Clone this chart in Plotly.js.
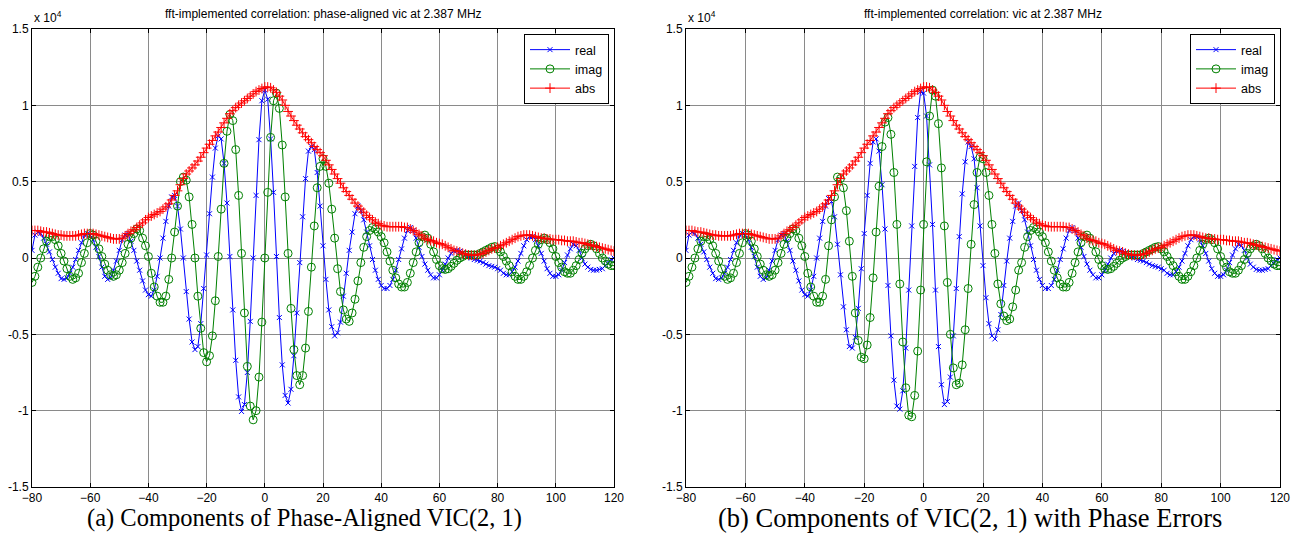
<!DOCTYPE html>
<html><head><meta charset="utf-8">
<script src="https://cdn.plot.ly/plotly-3.0.1.min.js"></script>
<style>html,body{margin:0;padding:0;background:#fff}#chart{width:1304px;height:546px}</style>
</head><body><div id="chart"></div>
<script>
// lag axis: -80 .. 120, step 1
const lagStart = -80, lagEnd = 120;

// ---- panel (a): phase-aligned (values in units of 1e4), one row = 10 lags ----
const realA = [
 0.05, 0.15, 0.17, 0.16, 0.13, 0.09, 0.04, -0.01, -0.06, -0.10,
 -0.135, -0.14, -0.13, -0.10, -0.06, -0.01, 0.05, 0.10, 0.15, 0.16,
 0.15, 0.12, 0.07, 0.01, -0.06, -0.12, -0.14, -0.13, -0.08, -0.02,
 0.05, 0.12, 0.15, 0.16, 0.11, 0.05, -0.02, -0.08, -0.15, -0.21,
 -0.24, -0.25, -0.21, -0.12, 0.0, 0.13, 0.24, 0.34, 0.40, 0.41,
 0.34, 0.19, 0.0, -0.22, -0.40, -0.55, -0.60, -0.58, -0.43, -0.20,
 0.02, 0.29, 0.53, 0.72, 0.80, 0.78, 0.62, 0.36, 0.01, -0.34,
 -0.67, -0.91, -1.005, -0.96, -0.75, -0.415, 0.0, 0.41, 0.775, 1.03,
 1.10, 1.04, 0.78, 0.43, 0.01, -0.39, -0.70, -0.90, -0.95, -0.86,
 -0.64, -0.36, -0.03, 0.27, 0.52, 0.70, 0.73, 0.71, 0.56, 0.34,
 0.08, -0.14, -0.34, -0.45, -0.51, -0.49, -0.42, -0.25, -0.10, 0.05,
 0.17, 0.29, 0.34, 0.31, 0.25, 0.17, 0.08, -0.01, -0.08, -0.14,
 -0.18, -0.20, -0.20, -0.18, -0.14, -0.08, -0.01, 0.06, 0.13, 0.18,
 0.20, 0.18, 0.13, 0.07, 0.01, -0.04, -0.08, -0.11, -0.13, -0.13,
 -0.11, -0.08, -0.04, 0.0, 0.03, 0.045, 0.05, 0.045, 0.035, 0.02,
 0.01, 0.0, -0.01, -0.015, -0.02, -0.03, -0.04, -0.05, -0.055, -0.06,
 -0.07, -0.08, -0.10, -0.11, -0.11, -0.09, -0.06, -0.02, 0.03, 0.08,
 0.12, 0.14, 0.14, 0.12, 0.08, 0.03, -0.02, -0.07, -0.10, -0.12,
 -0.12, -0.11, -0.08, -0.03, 0.02, 0.06, 0.09, 0.08, 0.05, 0.0,
 -0.04, -0.06, -0.075, -0.08, -0.08, -0.075, -0.07, -0.05, -0.03, -0.01,
 0.0
];
const imagA = [
 -0.16, -0.12, -0.06, 0.0, 0.06, 0.11, 0.14, 0.14, 0.12, 0.08,
 0.03, -0.02, -0.07, -0.12, -0.14, -0.13, -0.10, -0.03, 0.03, 0.10,
 0.16, 0.15, 0.11, 0.06, 0.01, -0.04, -0.08, -0.11, -0.12, -0.11,
 -0.08, -0.03, 0.03, 0.09, 0.13, 0.16, 0.19, 0.18, 0.13, 0.08,
 0.01, -0.10, -0.19, -0.25, -0.29, -0.29, -0.25, -0.14, 0.0, 0.17,
 0.34, 0.50, 0.53, 0.51, 0.40, 0.22, 0.0, -0.25, -0.46, -0.62,
 -0.68, -0.64, -0.51, -0.28, 0.01, 0.32, 0.62, 0.83, 0.94, 0.90,
 0.71, 0.41, 0.03, -0.36, -0.71, -0.97, -1.06, -1.0, -0.78, -0.42,
 0.0, 0.43, 0.79, 1.03, 1.08, 0.98, 0.74, 0.40, 0.03, -0.33,
 -0.60, -0.77, -0.83, -0.77, -0.59, -0.35, -0.06, 0.21, 0.46, 0.60,
 0.65, 0.60, 0.49, 0.32, 0.13, -0.07, -0.22, -0.34, -0.40, -0.415,
 -0.36, -0.27, -0.15, -0.03, 0.07, 0.14, 0.18, 0.20, 0.19, 0.17,
 0.14, 0.10, 0.04, -0.02, -0.08, -0.13, -0.17, -0.19, -0.19, -0.16,
 -0.10, -0.03, 0.04, 0.10, 0.14, 0.15, 0.13, 0.09, 0.04, -0.01,
 -0.05, -0.07, -0.075, -0.07, -0.055, -0.035, -0.015, 0.0, 0.01, 0.02,
 0.02, 0.02, 0.02, 0.02, 0.03, 0.04, 0.05, 0.06, 0.07, 0.075,
 0.06, 0.04, 0.01, -0.02, -0.05, -0.09, -0.12, -0.14, -0.14, -0.12,
 -0.09, -0.05, 0.0, 0.05, 0.09, 0.12, 0.13, 0.12, 0.10, 0.06,
 0.01, -0.03, -0.06, -0.09, -0.10, -0.10, -0.08, -0.05, -0.01, 0.03,
 0.06, 0.08, 0.09, 0.08, 0.06, 0.03, 0.0, -0.02, -0.04, -0.05,
 -0.05
];
const absA = [
 0.18, 0.18, 0.18, 0.175, 0.17, 0.17, 0.165, 0.16, 0.155, 0.15,
 0.15, 0.145, 0.145, 0.145, 0.145, 0.145, 0.15, 0.155, 0.16, 0.16,
 0.16, 0.16, 0.155, 0.15, 0.145, 0.14, 0.135, 0.13, 0.125, 0.125,
 0.125, 0.13, 0.145, 0.16, 0.175, 0.185, 0.20, 0.215, 0.23, 0.25,
 0.265, 0.275, 0.285, 0.295, 0.305, 0.32, 0.335, 0.355, 0.38, 0.41,
 0.44, 0.48, 0.52, 0.55, 0.57, 0.59, 0.61, 0.635, 0.66, 0.69,
 0.72, 0.745, 0.77, 0.80, 0.825, 0.855, 0.885, 0.915, 0.945, 0.965,
 0.985, 1.0, 1.015, 1.03, 1.045, 1.06, 1.075, 1.09, 1.10, 1.11,
 1.12, 1.12, 1.115, 1.10, 1.085, 1.06, 1.035, 1.0, 0.96, 0.93,
 0.90, 0.87, 0.845, 0.82, 0.795, 0.775, 0.755, 0.73, 0.71, 0.69,
 0.67, 0.64, 0.61, 0.58, 0.55, 0.52, 0.49, 0.46, 0.435, 0.41,
 0.385, 0.36, 0.34, 0.32, 0.30, 0.28, 0.265, 0.25, 0.235, 0.225,
 0.215, 0.21, 0.205, 0.205, 0.205, 0.205, 0.205, 0.205, 0.20, 0.20,
 0.19, 0.18, 0.17, 0.155, 0.145, 0.13, 0.12, 0.115, 0.11, 0.10,
 0.095, 0.09, 0.08, 0.07, 0.06, 0.05, 0.045, 0.04, 0.03, 0.025,
 0.02, 0.018, 0.017, 0.02, 0.025, 0.03, 0.04, 0.05, 0.06, 0.065,
 0.07, 0.08, 0.09, 0.10, 0.11, 0.12, 0.13, 0.14, 0.145, 0.15,
 0.15, 0.15, 0.145, 0.14, 0.135, 0.13, 0.13, 0.125, 0.125, 0.12,
 0.12, 0.12, 0.115, 0.115, 0.11, 0.11, 0.11, 0.105, 0.10, 0.10,
 0.095, 0.09, 0.085, 0.08, 0.075, 0.07, 0.065, 0.06, 0.055, 0.05,
 0.045
];

// ---- panel (b): with phase errors (values in units of 1e4) ----
const realB = [
 0.05, 0.15, 0.17, 0.16, 0.13, 0.09, 0.04, -0.01, -0.06, -0.10,
 -0.135, -0.14, -0.13, -0.10, -0.06, -0.01, 0.05, 0.10, 0.15, 0.16,
 0.15, 0.12, 0.07, 0.01, -0.06, -0.12, -0.14, -0.13, -0.08, -0.02,
 0.05, 0.12, 0.15, 0.16, 0.11, 0.05, -0.02, -0.08, -0.15, -0.21,
 -0.24, -0.25, -0.21, -0.12, 0.0, 0.13, 0.24, 0.34, 0.39, 0.37,
 0.27, 0.09, -0.11, -0.32, -0.47, -0.58, -0.59, -0.52, -0.33, -0.07,
 0.16, 0.41, 0.62, 0.76, 0.78, 0.70, 0.48, 0.19, -0.18, -0.51,
 -0.80, -0.97, -0.99, -0.87, -0.59, -0.21, 0.21, 0.60, 0.92, 1.09,
 1.08, 0.93, 0.61, 0.22, -0.21, -0.58, -0.83, -0.96, -0.94, -0.78,
 -0.51, -0.20, 0.14, 0.42, 0.63, 0.76, 0.73, 0.65, 0.46, 0.21,
 -0.05, -0.26, -0.43, -0.51, -0.53, -0.47, -0.37, -0.18, -0.02, 0.13,
 0.24, 0.34, 0.36, 0.31, 0.25, 0.17, 0.08, -0.01, -0.08, -0.14,
 -0.18, -0.20, -0.20, -0.18, -0.14, -0.08, -0.01, 0.06, 0.13, 0.18,
 0.20, 0.18, 0.13, 0.07, 0.01, -0.04, -0.08, -0.11, -0.13, -0.13,
 -0.11, -0.08, -0.04, 0.0, 0.03, 0.045, 0.05, 0.045, 0.035, 0.02,
 0.01, 0.0, -0.01, -0.015, -0.02, -0.03, -0.04, -0.05, -0.055, -0.06,
 -0.07, -0.08, -0.10, -0.11, -0.11, -0.09, -0.06, -0.02, 0.03, 0.08,
 0.12, 0.14, 0.14, 0.12, 0.08, 0.03, -0.02, -0.07, -0.10, -0.12,
 -0.12, -0.11, -0.08, -0.03, 0.02, 0.06, 0.09, 0.08, 0.05, 0.0,
 -0.04, -0.06, -0.075, -0.08, -0.08, -0.075, -0.07, -0.05, -0.03, -0.01,
 0.0
];
const imagB = [
 -0.16, -0.12, -0.06, 0.0, 0.06, 0.11, 0.14, 0.14, 0.12, 0.08,
 0.03, -0.02, -0.07, -0.12, -0.14, -0.13, -0.10, -0.03, 0.03, 0.10,
 0.16, 0.15, 0.11, 0.06, 0.01, -0.04, -0.08, -0.11, -0.12, -0.11,
 -0.08, -0.03, 0.03, 0.09, 0.13, 0.16, 0.19, 0.18, 0.13, 0.08,
 0.01, -0.10, -0.19, -0.25, -0.29, -0.29, -0.25, -0.14, 0.08, 0.25,
 0.40, 0.53, 0.52, 0.46, 0.31, 0.11, -0.12, -0.36, -0.54, -0.65,
 -0.66, -0.57, -0.39, -0.13, 0.17, 0.47, 0.73, 0.89, 0.92, 0.81,
 0.56, 0.22, -0.17, -0.55, -0.85, -1.03, -1.04, -0.90, -0.61, -0.21,
 0.22, 0.63, 0.93, 1.10, 1.06, 0.88, 0.59, 0.21, -0.16, -0.50,
 -0.72, -0.83, -0.82, -0.70, -0.47, -0.20, 0.09, 0.35, 0.56, 0.66,
 0.65, 0.56, 0.41, 0.22, 0.03, -0.17, -0.30, -0.38, -0.41, -0.40,
 -0.32, -0.21, -0.08, -0.03, 0.07, 0.14, 0.18, 0.20, 0.19, 0.17,
 0.14, 0.10, 0.04, -0.02, -0.08, -0.13, -0.17, -0.19, -0.19, -0.16,
 -0.10, -0.03, 0.04, 0.10, 0.14, 0.15, 0.13, 0.09, 0.04, -0.01,
 -0.05, -0.07, -0.075, -0.07, -0.055, -0.035, -0.015, 0.0, 0.01, 0.02,
 0.02, 0.02, 0.02, 0.02, 0.03, 0.04, 0.05, 0.06, 0.07, 0.075,
 0.06, 0.04, 0.01, -0.02, -0.05, -0.09, -0.12, -0.14, -0.14, -0.12,
 -0.09, -0.05, 0.0, 0.05, 0.09, 0.12, 0.13, 0.12, 0.10, 0.06,
 0.01, -0.03, -0.06, -0.09, -0.10, -0.10, -0.08, -0.05, -0.01, 0.03,
 0.06, 0.08, 0.09, 0.08, 0.06, 0.03, 0.0, -0.02, -0.04, -0.05,
 -0.05
];
const absB = [
 0.18, 0.18, 0.18, 0.175, 0.17, 0.17, 0.165, 0.16, 0.155, 0.15,
 0.15, 0.145, 0.145, 0.145, 0.145, 0.145, 0.15, 0.155, 0.16, 0.16,
 0.16, 0.16, 0.155, 0.15, 0.145, 0.14, 0.135, 0.13, 0.125, 0.125,
 0.125, 0.13, 0.145, 0.16, 0.175, 0.185, 0.20, 0.215, 0.23, 0.25,
 0.265, 0.275, 0.285, 0.295, 0.305, 0.32, 0.335, 0.355, 0.38, 0.41,
 0.44, 0.48, 0.52, 0.55, 0.57, 0.59, 0.61, 0.635, 0.66, 0.69,
 0.72, 0.745, 0.77, 0.80, 0.825, 0.855, 0.885, 0.915, 0.945, 0.965,
 0.985, 1.0, 1.015, 1.03, 1.045, 1.06, 1.075, 1.09, 1.10, 1.11,
 1.12, 1.12, 1.115, 1.10, 1.085, 1.06, 1.035, 1.0, 0.96, 0.93,
 0.90, 0.87, 0.845, 0.82, 0.795, 0.775, 0.755, 0.73, 0.71, 0.69,
 0.67, 0.64, 0.61, 0.58, 0.55, 0.52, 0.49, 0.46, 0.435, 0.41,
 0.385, 0.36, 0.34, 0.32, 0.30, 0.28, 0.265, 0.25, 0.235, 0.225,
 0.215, 0.21, 0.205, 0.205, 0.205, 0.205, 0.205, 0.205, 0.20, 0.20,
 0.19, 0.18, 0.17, 0.155, 0.145, 0.13, 0.12, 0.115, 0.11, 0.10,
 0.095, 0.09, 0.08, 0.07, 0.06, 0.05, 0.045, 0.04, 0.03, 0.025,
 0.02, 0.018, 0.017, 0.02, 0.025, 0.03, 0.04, 0.05, 0.06, 0.065,
 0.07, 0.08, 0.09, 0.10, 0.11, 0.12, 0.13, 0.14, 0.145, 0.15,
 0.15, 0.15, 0.145, 0.14, 0.135, 0.13, 0.13, 0.125, 0.125, 0.12,
 0.12, 0.12, 0.115, 0.115, 0.11, 0.11, 0.11, 0.105, 0.10, 0.10,
 0.095, 0.09, 0.085, 0.08, 0.075, 0.07, 0.065, 0.06, 0.055, 0.05,
 0.045
];

const xTickVals = [-80, -60, -40, -20, 0, 20, 40, 60, 80, 100, 120];
const yTickVals = [-1.5, -1, -0.5, 0, 0.5, 1, 1.5];
const yTickText = ['-1.5', '-1', '-0.5', '0', '0.5', '1', '1.5'];

const titleA = 'fft-implemented correlation: phase-aligned vic at 2.387 MHz';
const titleB = 'fft-implemented correlation: vic at 2.387 MHz';
const captionA = '(a) Components of Phase-Aligned VIC(2, 1)';
const captionB = '(b) Components of VIC(2, 1) with Phase Errors';
const seriesNames = ['real', 'imag', 'abs'];

const lags = [];
for (let k = lagStart; k <= lagEnd; k++) lags.push(k);

const W = 1304, H = 546;
const SANS = 'Liberation Sans, Arial, sans-serif';
const SERIF = 'Liberation Serif, Times New Roman, serif';

function mk(name, y, color, symbol, size, xa, ya, leg) {
  return {
    type: 'scatter', mode: 'lines+markers', name: name, x: lags, y: y,
    xaxis: xa, yaxis: ya, legend: leg,
    line: {color: color, width: 1},
    marker: {symbol: symbol, size: size, color: color, line: {color: color, width: 1}}
  };
}
const traces = [
  mk(seriesNames[0], realA, '#0000ff', 'x-thin-open', 5, 'x', 'y', 'legend'),
  mk(seriesNames[1], imagA, '#008000', 'circle-open', 8, 'x', 'y', 'legend'),
  mk(seriesNames[2], absA, '#ff0000', 'cross-thin-open', 7, 'x', 'y', 'legend'),
  mk(seriesNames[0], realB, '#0000ff', 'x-thin-open', 5, 'x2', 'y2', 'legend2'),
  mk(seriesNames[1], imagB, '#008000', 'circle-open', 8, 'x2', 'y2', 'legend2'),
  mk(seriesNames[2], absB, '#ff0000', 'cross-thin-open', 7, 'x2', 'y2', 'legend2')
];

const yDom = [1 - 487 / H, 1 - 29 / H];
const domA = [32 / W, 614 / W];
const domB = [686 / W, 1280 / W];

function xAxis(dom, anchor) {
  return {domain: dom, anchor: anchor, range: [-80, 120], tickvals: xTickVals,
    ticks: 'inside', ticklen: 4, tickcolor: '#000', showline: true, linecolor: '#000', linewidth: 1,
    mirror: 'ticks', showgrid: true, gridcolor: '#8a8a8a', gridwidth: 1, zeroline: false,
    tickfont: {family: SANS, size: 12, color: '#000'}};
}
function yAxis(anchor) {
  return {domain: yDom, anchor: anchor, range: [-1.5, 1.5], tickvals: yTickVals, ticktext: yTickText,
    ticks: 'inside', ticklen: 4, tickcolor: '#000', showline: true, linecolor: '#000', linewidth: 1,
    mirror: 'ticks', showgrid: true, gridcolor: '#8a8a8a', gridwidth: 1, zeroline: false,
    tickfont: {family: SANS, size: 12, color: '#000'}};
}
function legendAt(xr) {
  return {x: xr, xanchor: 'right', y: 1 - 34 / H, yanchor: 'top', bgcolor: '#fff',
    bordercolor: '#000', borderwidth: 1, font: {family: SANS, size: 12.5, color: '#000'},
    tracegroupgap: 0, itemwidth: 40};
}

const layout = {
  width: W, height: H, margin: {l: 0, r: 0, t: 0, b: 0},
  paper_bgcolor: '#fff', plot_bgcolor: '#fff', showlegend: true,
  xaxis: xAxis(domA, 'y'), yaxis: yAxis('x'),
  xaxis2: xAxis(domB, 'y2'), yaxis2: yAxis('x2'),
  legend: legendAt(609 / W), legend2: legendAt(1275 / W),
  annotations: [
    {text: titleA, xref: 'paper', yref: 'paper', x: (domA[0] + domA[1]) / 2, y: 1 - 14 / H, xanchor: 'center', yanchor: 'middle', showarrow: false, font: {family: SANS, size: 12, color: '#000'}},
    {text: titleB, xref: 'paper', yref: 'paper', x: (domB[0] + domB[1]) / 2, y: 1 - 14 / H, xanchor: 'center', yanchor: 'middle', showarrow: false, font: {family: SANS, size: 12, color: '#000'}},
    {text: 'x 10<sup>4</sup>', xref: 'paper', yref: 'paper', x: 32 / W, y: 1 - 17 / H, xanchor: 'left', yanchor: 'middle', showarrow: false, font: {family: SANS, size: 12, color: '#000'}},
    {text: 'x 10<sup>4</sup>', xref: 'paper', yref: 'paper', x: 686 / W, y: 1 - 17 / H, xanchor: 'left', yanchor: 'middle', showarrow: false, font: {family: SANS, size: 12, color: '#000'}},
    {text: captionA, xref: 'paper', yref: 'paper', x: 304 / W, y: 1 - 518 / H, xanchor: 'center', yanchor: 'middle', showarrow: false, font: {family: SERIF, size: 24.5, color: '#000'}},
    {text: captionB, xref: 'paper', yref: 'paper', x: 970 / W, y: 1 - 518 / H, xanchor: 'center', yanchor: 'middle', showarrow: false, font: {family: SERIF, size: 26.5, color: '#000'}}
  ]
};

Plotly.newPlot('chart', traces, layout, {staticPlot: true, displayModeBar: false});
</script>
</body></html>
